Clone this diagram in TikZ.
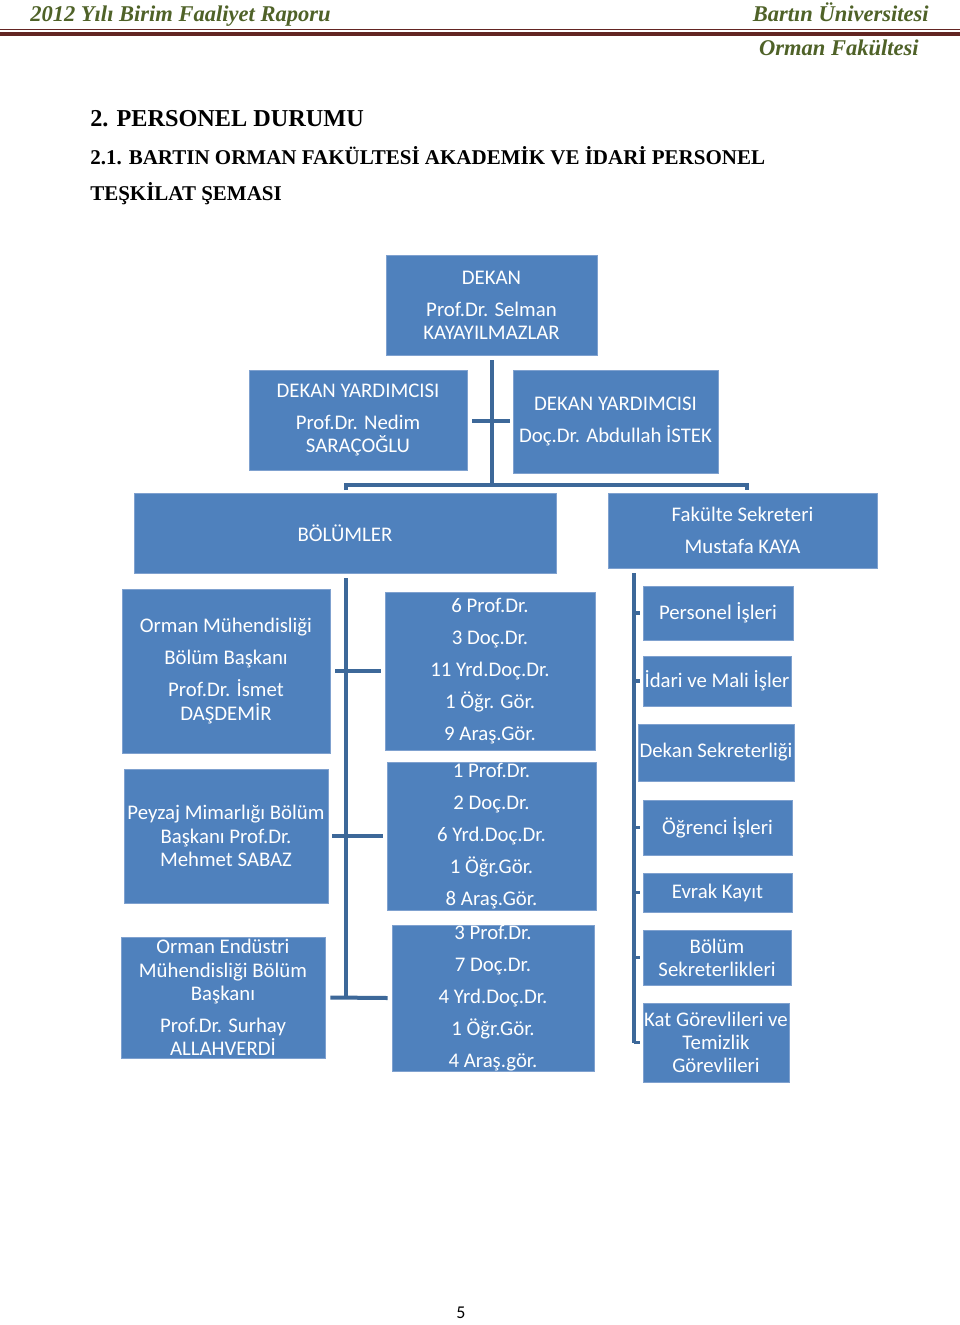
\documentclass[tikz,border=0pt]{standalone}
\usepackage{fontspec}
\newfontfamily\calfont{Carlito}
\newfontfamily\timesfont{Liberation Serif}
\usetikzlibrary{calc}
\definecolor{boxblue}{HTML}{4F81BD}
\definecolor{boxedge}{HTML}{7FA1CF}
\definecolor{connblue}{HTML}{3D6899}
\definecolor{hdrgreen}{HTML}{4F6228}
\definecolor{hdrred}{HTML}{632523}
\newcommand{\BoxNode}[6]{%
  \node[orgbox, minimum width={(#4-#2)*0.75pt}, minimum height={(#5-#3)*0.75pt}]
    (#1) at ({(#2+#4)/2},{(#3+#5)/2}) {#6};}
\begin{document}
\begin{tikzpicture}[x=0.75pt,y=-0.75pt,
  orgbox/.style={draw=boxedge, line width=0.6pt, fill=boxblue, text=white,
    inner sep=0pt, align=center, font=\calfont\fontsize{15.6}{17.4}\selectfont},
  conn/.style={draw=connblue, line width=3pt},
  tick/.style={draw=connblue, line width=2.4pt},
  hdr/.style={text=hdrgreen, inner sep=0pt, font=\timesfont\bfseries\itshape\fontsize{16.9}{19}\selectfont},
  ttl/.style={inner sep=0pt, anchor=base west, font=\timesfont\bfseries}]
\useasboundingbox (0,0) rectangle (960,1325);
\fill[white] (0,0) rectangle (960,1325);

% header
\node[hdr, anchor=base west] (hl) at (30,21) {2012 Yılı Birim Faaliyet Raporu};
\node[hdr, anchor=base east] (hr) at (929,21) {Bartın Üniversitesi};
\node[hdr, anchor=base east] (hr2) at (919,55) {Orman Fakültesi};
\draw[hdrred, line width=1pt] (0,29.5) -- (960,29.5);
\draw[hdrred, line width=3pt] (0,33.5) -- (960,33.5);

% titles
\node[ttl, font=\timesfont\bfseries\fontsize{18.2}{20}\selectfont] (t1) at (90,126) {2. PERSONEL DURUMU};
\node[ttl, font=\timesfont\bfseries\fontsize{15.75}{18}\selectfont] (t2) at (90,164) {2.1. BARTIN ORMAN FAKÜLTESİ AKADEMİK VE İDARİ PERSONEL};
\node[ttl, font=\timesfont\bfseries\fontsize{15.75}{18}\selectfont] (t3) at (90,200) {TEŞKİLAT ŞEMASI};

% connectors (drawn first)
\coordinate (hub) at (492,485);
\coordinate (dtop) at (492,360);
\coordinate (crossL) at (472,421);
\coordinate (crossR) at (510,421);
\draw[conn] (dtop) -- (hub);
\draw[conn] (crossL) -- (crossR);
\coordinate (hL) at (346,485);
\coordinate (hR) at (747,485);
\draw[conn] ($(hL)+(0,5)$) -- (hL) -- (hR) -- ($(hR)+(0,5)$);

\coordinate (bTop) at (346,578);
\coordinate (bBot) at (346,998);
\draw[conn] (bTop) -- (bBot);

\coordinate (sTop) at (634,573);
\coordinate (sBot) at (634,1043);
\draw[conn] (sTop) -- (sBot);

% boxes
\BoxNode{dekan}{386}{255}{597}{355}{DEKAN\\[6.6pt]Prof.Dr. Selman\\KAYAYILMAZLAR}
\BoxNode{dy1}{249}{370}{467}{470}{DEKAN YARDIMCISI\\[6.6pt]Prof.Dr. Nedim\\SARAÇOĞLU}
\BoxNode{dy2}{513}{370}{718}{473}{DEKAN YARDIMCISI\\[6.6pt]Doç.Dr. Abdullah İSTEK}
\BoxNode{bolum}{134}{493}{556}{573}{BÖLÜMLER}
\BoxNode{fak}{608}{493}{877}{568}{Fakülte Sekreteri\\[6.6pt]Mustafa KAYA}

\BoxNode{om}{122}{589}{330}{753}{Orman Mühendisliği\\[6.6pt]Bölüm Başkanı\\[6.6pt]Prof.Dr. İsmet\\DAŞDEMİR}
\BoxNode{pm}{124}{769}{328}{903}{Peyzaj Mimarlığı Bölüm\\Başkanı Prof.Dr.\\Mehmet SABAZ}
\BoxNode{oe}{121}{937}{325}{1058}{Orman Endüstri\\Mühendisliği Bölüm\\Başkanı\\[6.6pt]Prof.Dr. Surhay\\ALLAHVERDİ}

\BoxNode{s1}{385}{592}{595}{750}{6 Prof.Dr.\\[6.6pt]3 Doç.Dr.\\[6.6pt]11 Yrd.Doç.Dr.\\[6.6pt]1 Öğr. Gör.\\[6.6pt]9 Araş.Gör.}
\BoxNode{s2}{387}{762}{596}{910}{1 Prof.Dr.\\[6.6pt]2 Doç.Dr.\\[6.6pt]6 Yrd.Doç.Dr.\\[6.6pt]1 Öğr.Gör.\\[6.6pt]8 Araş.Gör.}
\BoxNode{s3}{392}{926}{594}{1070}{3 Prof.Dr.\\[6.6pt]7 Doç.Dr.\\[6.6pt]4 Yrd.Doç.Dr.\\[6.6pt]1 Öğr.Gör.\\[6.6pt]4 Araş.gör.}

\BoxNode{r1}{643}{586}{793}{640}{Personel İşleri}
\BoxNode{r2}{643}{656}{791}{706}{İdari ve Mali İşler}
\BoxNode{r3}{638}{724}{794}{781}{Dekan Sekreterliği}
\BoxNode{r4}{643}{800}{792}{855}{Öğrenci İşleri}
\BoxNode{r5}{643}{873}{792}{912}{Evrak Kayıt}
\BoxNode{r6}{643}{930}{791}{985}{Bölüm\\Sekreterlikleri}
\BoxNode{r7}{643}{1003}{789}{1082}{Kat Görevlileri ve\\Temizlik\\Görevlileri}

% department-to-staff connectors
\draw[conn] ($(om.east)+(5,0)$) -- ($(s1.west)+(-4,0)$);
\draw[conn] ($(pm.east)+(4,0)$) -- ($(s2.west)+(-4,0)$);
\draw[conn] ($(oe.east)+(5,0)$) -- ($(s3.west)+(-4,0)$);

% ticks on the right spine
\foreach \r in {r1,r2,r4,r5,r6,r7}
  \draw[tick] (sTop |- \r.west) -- ($(sTop |- \r.west)+(6,0)$);

% page number
\node[inner sep=0pt, font=\calfont\fontsize{13.5}{15}\selectfont] (pg) at (461,1313) {5};
\end{tikzpicture}
\end{document}
